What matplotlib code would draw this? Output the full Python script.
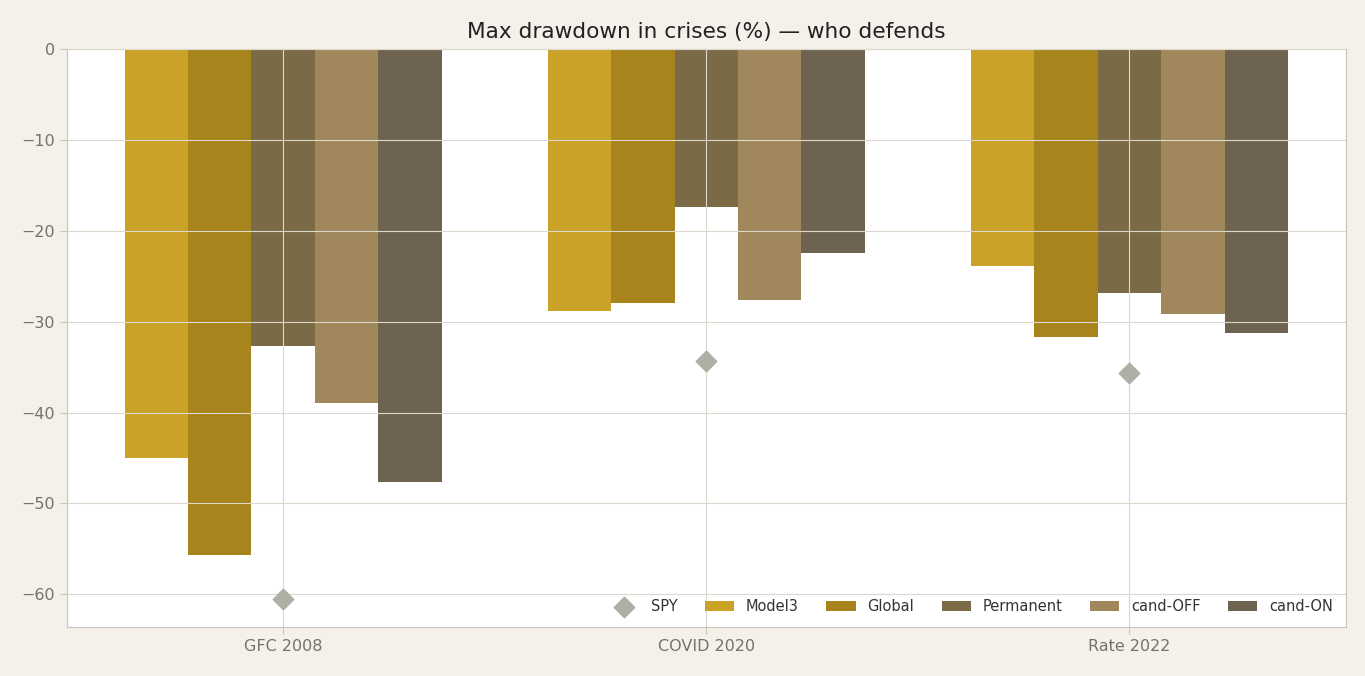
import matplotlib
matplotlib.use("Agg")
import matplotlib.pyplot as plt
import numpy as np

crises = ["GFC 2008", "COVID 2020", "Rate 2022"]
series_names = ["Model3", "Global", "Permanent", "cand-OFF", "cand-ON"]
model3 = [-45.0, -28.8, -23.9]
global_ = [-55.7, -28.0, -31.7]
permanent = [-32.7, -17.4, -26.9]
cand_off = [-38.9, -27.6, -29.2]
cand_on = [-47.6, -22.4, -31.2]
spy = [-60.5, -34.3, -35.6]

colors = ["#C9A227", "#A8841C", "#7A6A45", "#A0885C", "#6E6350"]
values = [model3, global_, permanent, cand_off, cand_on]

fig = plt.figure(figsize=(13.65, 6.76), dpi=100, facecolor="#F5F0EA")
ax = fig.add_axes([67/1365, 1-627/676, (1346-67)/1365, (627-49)/676])
ax.set_facecolor("white")

x = np.arange(len(crises))
w = 0.15
for i, (name, vals, c) in enumerate(zip(series_names, values, colors)):
    ax.bar(x + (i - 2) * w, vals, width=w, color=c, label=name, zorder=1)

ax.scatter(x, spy, marker="D", s=110, color="#B0AFA5", label="SPY", zorder=4)

ax.set_xlim(-0.511, 2.512)
ax.set_ylim(-63.6, 0)
ax.set_xticks(x)
ax.set_xticklabels(crises)
ax.set_yticks([0, -10, -20, -30, -40, -50, -60])
ax.set_yticklabels(["0", "\u221210", "\u221220", "\u221230", "\u221240", "\u221250", "\u221260"])
ax.grid(True, color="#DDD8CC", linewidth=0.8, zorder=2)
ax.set_axisbelow(False)
for s in ax.spines.values():
    s.set_color("#C8C4B8")
ax.tick_params(colors="#C8C4B8", labelcolor="#777268", labelsize=11.5, length=5)

ax.set_title("Max drawdown in crises (%) \u2014 who defends", fontsize=15.6, color="#222222", pad=8)

handles, labels = ax.get_legend_handles_labels()
order = [labels.index("SPY")] + [labels.index(n) for n in series_names]
leg = ax.legend([handles[i] for i in order], [labels[i] for i in order],
                loc="lower right", ncol=6, frameon=False, fontsize=10.5,
                handlelength=2.0, columnspacing=1.9, bbox_to_anchor=(1.0, 0.0),
                labelcolor="#333333")

fig.savefig("out.png", dpi=100, facecolor=fig.get_facecolor())
